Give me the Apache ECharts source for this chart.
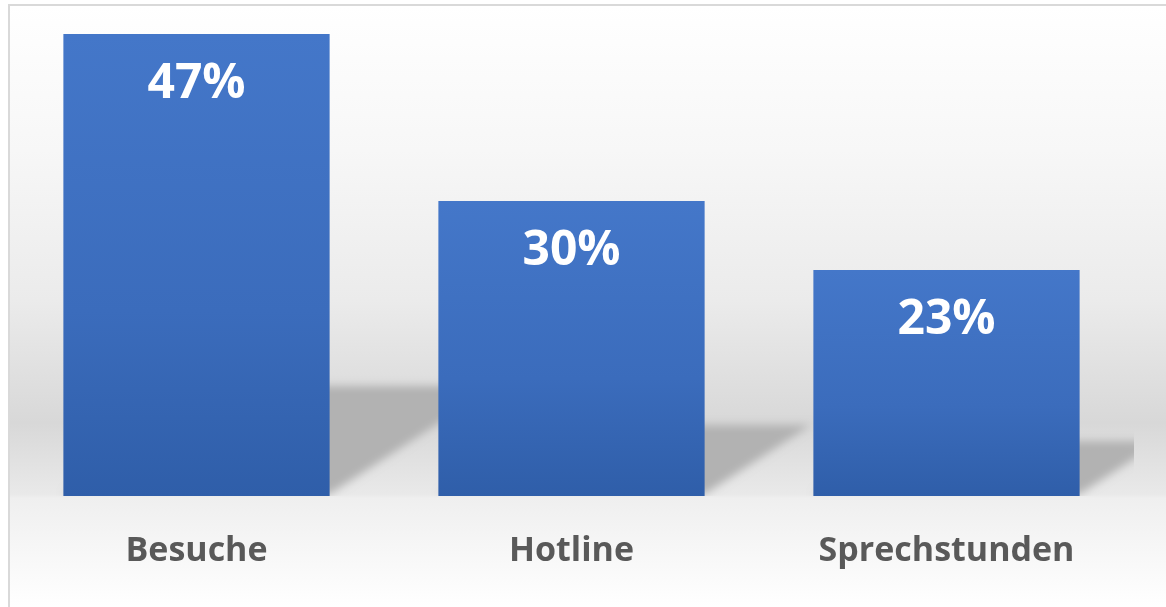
<!DOCTYPE html>
<html>
<head>
<meta charset="utf-8">
<script src="https://cdn.jsdelivr.net/npm/echarts@6/dist/echarts.min.js"></script>
<style>
  html, body { margin: 0; padding: 0; background: #ffffff; }
  #chart { width: 1166px; height: 607px; }
</style>
</head>
<body>
<div id="chart"></div>
<script>
const categories = ['Besuche', 'Hotline', 'Sprechstunden'];
const shares = [47, 30, 23];

const chart = echarts.init(document.getElementById('chart'), null, { renderer: 'canvas' });

const barGap = 0.29;
const OFF = 3000;

const option = {
  backgroundColor: '#ffffff',
  animation: false,
  graphic: [{
    type: 'rect',
    silent: true,
    z: -10,
    zlevel: 0,
    shape: { x: 9, y: 5, width: 1200, height: 640 },
    style: {
      fill: new echarts.graphic.LinearGradient(0, 5, 0, 607, [
        { offset: 0, color: '#ffffff' },
        { offset: (150 - 5) / 602, color: '#f7f7f7' },
        { offset: (300 - 5) / 602, color: '#ebebeb' },
        { offset: (423 - 5) / 602, color: '#d8d8d8' },
        { offset: (494 - 5) / 602, color: '#e9e9e9' },
        { offset: (498 - 5) / 602, color: '#efefef' },
        { offset: (545 - 5) / 602, color: '#f6f6f6' },
        { offset: 1, color: '#ffffff' }
      ], true),
      stroke: '#d9d9d9',
      lineWidth: 2
    }
  }],
  grid: { left: 9, right: 32, top: 34, bottom: 111, containLabel: false },
  xAxis: {
    type: 'category',
    data: categories,
    axisLine: { show: false },
    axisTick: { show: false },
    splitLine: { show: false },
    axisLabel: {
      margin: 38,
      color: '#595959',
      fontFamily: 'Open Sans',
      fontWeight: 'bold',
      fontSize: 34
    }
  },
  yAxis: {
    type: 'value',
    min: 0,
    max: 47,
    show: false,
    splitLine: { show: false }
  },
  series: [
    {
      type: 'custom',
      name: 'shadow',
      z: 1,
      clip: true,
      silent: true,
      data: shares.map((v, i) => [i, v]),
      encode: { x: 0, y: 1 },
      renderItem: function (params, api) {
        const top = api.coord([api.value(0), api.value(1)]);
        const base = api.coord([api.value(0), 0]);
        const band = api.size([1, 0])[0];
        const w = band * (1 - barGap);
        const x0 = top[0] - w / 2 - OFF;
        const x1 = top[0] + w / 2 - OFF;
        const h = base[1] - top[1];
        const sh = 0.234 * h;
        const dx = 0.36 * h;
        const by = base[1] - 2;
        return {
          type: 'polygon',
          shape: {
            points: [[x0, by], [x1, by], [x1 + dx, by - sh], [x0 + dx, by - sh]]
          },
          style: {
            fill: '#b4b4b4',
            shadowBlur: 9,
            shadowOffsetX: OFF,
            shadowOffsetY: 0,
            shadowColor: 'rgba(178,178,178,1)'
          }
        };
      }
    },
    {
      type: 'bar',
      name: 'Anteil',
      z: 3,
      data: shares,
      barCategoryGap: '29%',
      itemStyle: {
        color: new echarts.graphic.LinearGradient(0, 0, 0, 1, [
          { offset: 0, color: '#4477c9' },
          { offset: 0.6, color: '#3b6cbc' },
          { offset: 1, color: '#2f5ea9' }
        ])
      },
      label: {
        show: true,
        position: 'insideTop',
        distance: 26,
        formatter: '{c}%',
        color: '#ffffff',
        fontFamily: 'Open Sans',
        fontWeight: 'bold',
        fontSize: 48
      }
    }
  ]
};

chart.setOption(option);
</script>
</body>
</html>
